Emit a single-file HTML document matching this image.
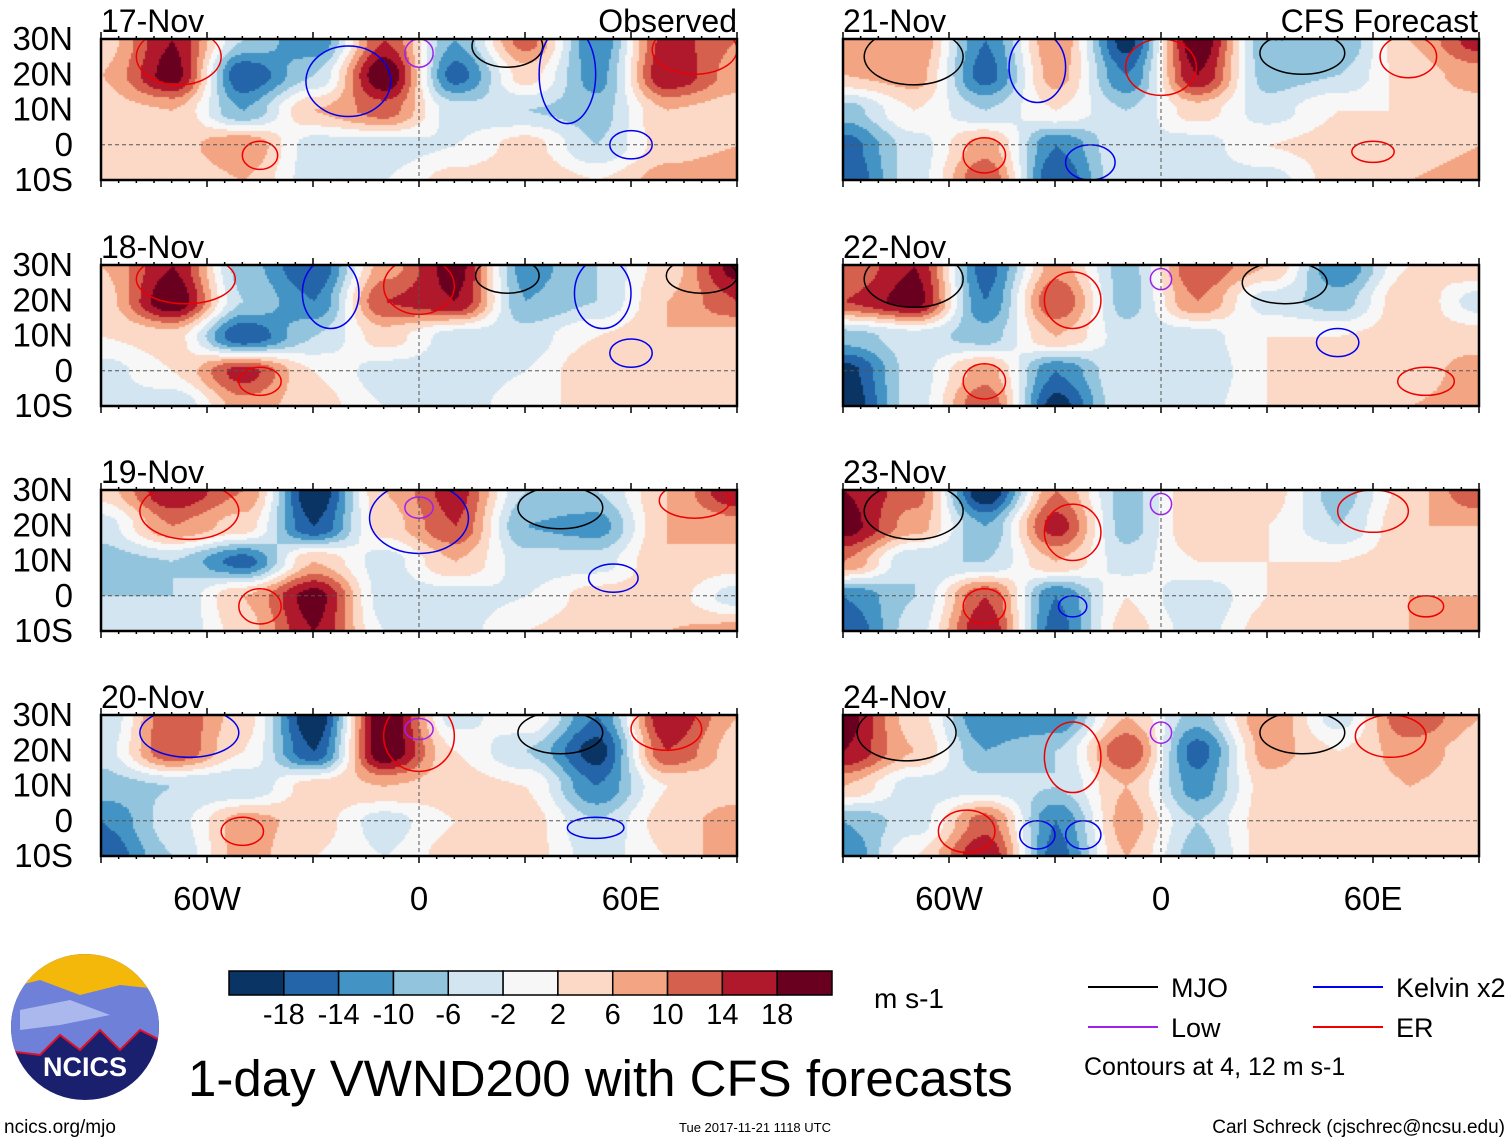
<!DOCTYPE html>
<html><head><meta charset="utf-8"><style>
body{margin:0;background:#fff;width:1510px;height:1142px;overflow:hidden;position:relative;font-family:"Liberation Sans",sans-serif}
canvas{position:absolute}
svg{position:absolute;left:0;top:0}
</style></head><body>
<div id="maps"></div>
<svg id="ov" width="1510" height="1142"></svg>
<script>
const lons=[-90,-70,-50,-30,-10,10,30,50,70,90];
const lats=[30,20,10,0,-10];
const panelDates=["17-Nov","18-Nov","19-Nov","20-Nov","21-Nov","22-Nov","23-Nov","24-Nov"];
const cbarLevels=[-18,-14,-10,-6,-2,2,6,10,14,18];
const cbarColors=["#0a3464","#2465a9","#4394c4","#92c4dd","#d2e5f0","#f7f7f7","#fcd9c6","#f3a583","#d6604e","#b0182c","#690020"];
const latTicks=["30N","20N","10N","0","10S"];
const lonTicks=["60W","0","60E"];
const lonTickVals=[-60,0,60];
const field1=[[4,18,-6,-14,14,-10,12,-14,16,10],[6,20,-18,-6,22,-16,4,-12,18,8],[4,6,-10,6,12,-4,-6,-8,6,4],[2,4,10,-4,-4,-2,4,-6,4,6],[4,2,6,-4,-2,4,6,2,8,10]];
const field2=[[6,18,-8,-18,8,20,-12,-6,4,20],[4,22,-6,-14,14,18,-10,-6,6,14],[2,4,-18,-6,4,-4,-4,2,6,4],[-4,2,16,2,-4,-4,-2,6,4,2],[-4,-6,8,4,-2,-4,0,4,6,4]];
const field3=[[4,18,10,-22,6,16,-6,-6,6,18],[-4,10,4,-18,4,14,-10,-12,6,8],[-8,-6,-16,6,-4,6,-4,-4,6,4],[-6,-6,6,20,-4,-4,-2,4,4,-4],[-4,-6,4,18,-2,-4,2,6,6,8]];
const field4=[[-6,14,4,-22,22,-4,2,-14,18,6],[-4,14,2,-18,22,2,-6,-20,14,4],[-8,-6,-6,4,6,4,2,-14,2,4],[-14,-4,8,4,-4,2,4,-6,4,8],[-18,-6,8,2,-2,4,4,-4,2,10]];
const field5=[[8,10,-14,10,-20,22,-10,-10,6,16],[6,8,-16,8,-14,18,-8,-6,4,8],[-8,2,-6,2,-6,4,-4,2,2,4],[-16,-4,8,-14,-2,-4,2,4,4,6],[-18,-4,14,-18,-2,-4,-4,4,6,8]];
const field6=[[10,18,-16,8,-8,14,6,-14,2,6],[14,20,-14,14,-8,10,-4,-8,6,-4],[-8,-4,-8,6,-4,-4,2,2,4,4],[-20,-4,8,-14,-2,-6,2,4,4,8],[-22,-4,14,-20,-2,-4,2,4,6,8]];
const field7=[[18,12,-22,10,-8,6,4,-8,4,14],[20,8,-10,16,-8,6,2,-6,6,6],[10,-6,-6,6,-4,2,2,2,4,6],[-14,-6,14,-14,2,-6,2,4,6,6],[-18,-4,18,-16,4,-4,4,4,6,10]];
const field8=[[20,4,-14,-14,6,-8,10,-4,14,6],[18,6,-10,-6,14,-16,8,2,8,4],[6,-4,-4,-6,6,-12,4,2,6,4],[-10,-4,12,-14,8,-6,4,4,6,4],[-14,2,18,-16,6,-8,4,4,4,6]];
const fields=[field1,field2,field3,field4,field5,field6,field7,field8];
// contours: lon, lat, rx(deg), ry(deg), kind
const cont1=[[-68,25,12,8,"r"],[-20,18,12,10,"b"],[0,26,4,4,"p"],[25,28,10,6,"k"],[42,20,8,14,"b"],[-45,-3,5,4,"r"],[60,0,6,4,"b"],[78,27,12,7,"r"]];
const cont2=[[-66,26,14,7,"r"],[0,24,10,8,"r"],[-25,22,8,10,"b"],[25,27,9,5,"k"],[52,22,8,10,"b"],[-45,-3,6,4,"r"],[60,5,6,4,"b"],[80,27,10,5,"k"]];
const cont3=[[-65,24,14,8,"r"],[0,22,14,10,"b"],[0,25,4,3,"p"],[40,25,12,6,"k"],[-45,-3,6,5,"r"],[55,5,7,4,"b"],[78,27,10,5,"r"]];
const cont4=[[-65,25,14,7,"b"],[0,24,10,10,"r"],[0,26,4,3,"p"],[40,25,12,6,"k"],[70,26,10,6,"r"],[-50,-3,6,4,"r"],[50,-2,8,3,"b"]];
const cont5=[[-70,25,14,8,"k"],[-35,22,8,10,"b"],[0,22,10,8,"r"],[40,26,12,6,"k"],[70,25,8,6,"r"],[-50,-3,6,5,"r"],[60,-2,6,3,"r"],[-20,-5,7,5,"b"]];
const cont6=[[-70,26,14,8,"k"],[-25,20,8,8,"r"],[0,26,3,3,"p"],[35,25,12,6,"k"],[-50,-3,6,5,"r"],[75,-3,8,4,"r"],[50,8,6,4,"b"]];
const cont7=[[-70,24,14,8,"k"],[-25,18,8,8,"r"],[0,26,3,3,"p"],[60,24,10,6,"r"],[-50,-3,6,5,"r"],[75,-3,5,3,"r"],[-25,-3,4,3,"b"]];
const cont8=[[-72,25,14,8,"k"],[-25,18,8,10,"r"],[0,25,3,3,"p"],[40,25,12,6,"k"],[65,24,10,6,"r"],[-55,-3,8,6,"r"],[-35,-4,5,4,"b"],[-22,-4,5,4,"b"]];
const contours=[cont1,cont2,cont3,cont4,cont5,cont6,cont7,cont8];
const legendNames=["MJO","Kelvin x2","Low","ER"];
const legendColors=["#000","#0000ee","#a020f0","#ee0000"];

const NS="http://www.w3.org/2000/svg";
const ov=document.getElementById('ov');
function mk(tag,attrs,parent){const e=document.createElementNS(NS,tag);for(const k in attrs)e.setAttribute(k,attrs[k]);(parent||ov).appendChild(e);return e;}
function txt(s,x,y,size,anchor,name,parent){const t=mk('text',{x:x,y:y,'font-size':size,'text-anchor':anchor||'start','font-family':'Liberation Sans, sans-serif',fill:'#000'},parent);t.textContent=s;return t;}
function colorOf(v){let i=Math.floor((v+18)/4)+1;if(i<0)i=0;if(i>10)i=10;return cbarColors[i];}
function sm(t){return t*t*(3-2*t);}
const PW=636,PH=141;
const lefts=[101,843],tops=[39,265,490,715];
const ccol={k:"#000",b:"#0000ee",r:"#ee0000",p:"#a020f0"};
for(let p=0;p<8;p++){
  const col=p<4?0:1,row=p%4;const X=lefts[col],Y=tops[row];
  const xs=lon=>X+(lon+90)/180*PW, ys=lat=>Y+(30-lat)/40*PH;
  const cv=document.createElement('canvas');cv.width=PW;cv.height=PH;cv.style.left=X+'px';cv.style.top=Y+'px';
  
  
  document.getElementById('maps').appendChild(cv);
  const c=cv.getContext('2d');const f=fields[p];
  for(let py=0;py<PH;py+=2)for(let px=0;px<PW;px+=2){
    const lon=-90+px/PW*180,lat=30-py/PH*40;
    let fi=(lon+90)/20;if(fi>8.999)fi=8.999;let fj=(30-lat)/10;if(fj>3.999)fj=3.999;
    const i=Math.floor(fi),j=Math.floor(fj),a=sm(fi-i),b=sm(fj-j);
    const v=f[j][i]*(1-a)*(1-b)+f[j][i+1]*a*(1-b)+f[j+1][i]*(1-a)*b+f[j+1][i+1]*a*b;
    c.fillStyle=colorOf(v);c.fillRect(px,py,2,2);
  }
  const g=mk('g',{});
  const cp=mk('clipPath',{id:'cp'+p},g);mk('rect',{x:X,y:Y,width:PW,height:PH},cp);
  const cg=mk('g',{'clip-path':'url(#cp'+p+')'},g);
  contours[p].forEach(d=>{const e=mk('ellipse',{cx:xs(d[0]),cy:ys(d[1]),rx:d[2]/180*PW,ry:d[3]/40*PH,fill:'none',stroke:ccol[d[4]],'stroke-width':1.5},cg);});
  mk('line',{x1:X,x2:X+PW,y1:ys(0),y2:ys(0),stroke:'#555','stroke-dasharray':'4,3','stroke-width':1},g);
  mk('line',{x1:xs(0),x2:xs(0),y1:Y,y2:Y+PH,stroke:'#555','stroke-dasharray':'4,3','stroke-width':1},g);
  mk('rect',{x:X,y:Y,width:PW,height:PH,fill:'none',stroke:'#000','stroke-width':2.5},g);
  for(let lo=-90;lo<=90;lo+=5){const L=(lo%30===0)?7:3;mk('line',{x1:xs(lo),x2:xs(lo),y1:Y,y2:Y-L,stroke:'#000','stroke-width':1.5},g);mk('line',{x1:xs(lo),x2:xs(lo),y1:Y+PH,y2:Y+PH+L,stroke:'#000','stroke-width':1.5},g);}
  txt(panelDates[p],X,Y-7,32,'start','panel-date',g);
  if(col===0) latTicks.forEach((t,k)=>txt(t,73,ys(lats[k])+11,33,'end','lat-label',g));
  if(row===3) lonTicks.forEach((t,k)=>txt(t,xs(lonTickVals[k]),910,33,'middle','lon-label',g));
}
txt("Observed",737,32,32,'end','observed-label');
txt("CFS Forecast",1478,32,32,'end','forecast-label');
const cb=mk('g',{});
const cbX=229,cbW=603,cbY=971,cbH=24,bw=cbW/cbarColors.length;
cbarColors.forEach((c,i)=>mk('rect',{x:cbX+i*bw,y:cbY,width:bw,height:cbH,fill:c,stroke:'#000','stroke-width':1.5},cb));
cbarLevels.forEach((v,i)=>txt(String(v),cbX+(i+1)*bw,1024,29,'middle','colorbar-tick',cb));
txt("m s-1",874,1008,28,'start','units-label');
const lg=[[1088,987],[1313,987],[1088,1027],[1313,1027]];
legendNames.forEach((n,i)=>{mk('line',{x1:lg[i][0],x2:lg[i][0]+70,y1:lg[i][1],y2:lg[i][1],stroke:legendColors[i],'stroke-width':2});txt(n,lg[i][0]+83,lg[i][1]+10,27,'start','legend-entry');});
txt("Contours at 4, 12 m s-1",1084,1075,25,'start','contour-note');
txt("1-day VWND200 with CFS forecasts",188,1096,51,'start','chart-title');
txt("ncics.org/mjo",4,1133,19,'start','site-url');
txt("Tue 2017-11-21 1118 UTC",755,1132,13,'middle','timestamp');
txt("Carl Schreck (cjschrec@ncsu.edu)",1505,1133,19,'end','author');
const lgG=mk('g',{});
mk('clipPath',{id:'lc'},lgG).appendChild(mk('ellipse',{cx:85,cy:1027,rx:74,ry:73}));
const lc=mk('g',{'clip-path':'url(#lc)'},lgG);
mk('rect',{x:0,y:950,width:170,height:160,fill:'#1a1f6e'},lc);
mk('rect',{x:0,y:950,width:170,height:48,fill:'#f4b80a'},lc);
mk('path',{d:'M0 990 L40 980 L80 995 L120 985 L170 990 L170 1045 L140 1030 L120 1050 L100 1030 L80 1050 L60 1035 L40 1055 L0 1050Z',fill:'#6f80d8'},lc);
mk('path',{d:'M20 1010 L70 1000 L110 1015 L60 1025 L20 1030Z',fill:'#aab8ee'},lc);
mk('path',{d:'M0 1050 L40 1055 L60 1035 L80 1050 L100 1030 L120 1050 L140 1030 L170 1045',fill:'none',stroke:'#e0102a','stroke-width':2},lc);
const nt=txt("NCICS",85,1076,27,'middle','logo-text',lgG);nt.setAttribute('fill','#fff');nt.setAttribute('font-weight','bold');
</script>
</body></html>
